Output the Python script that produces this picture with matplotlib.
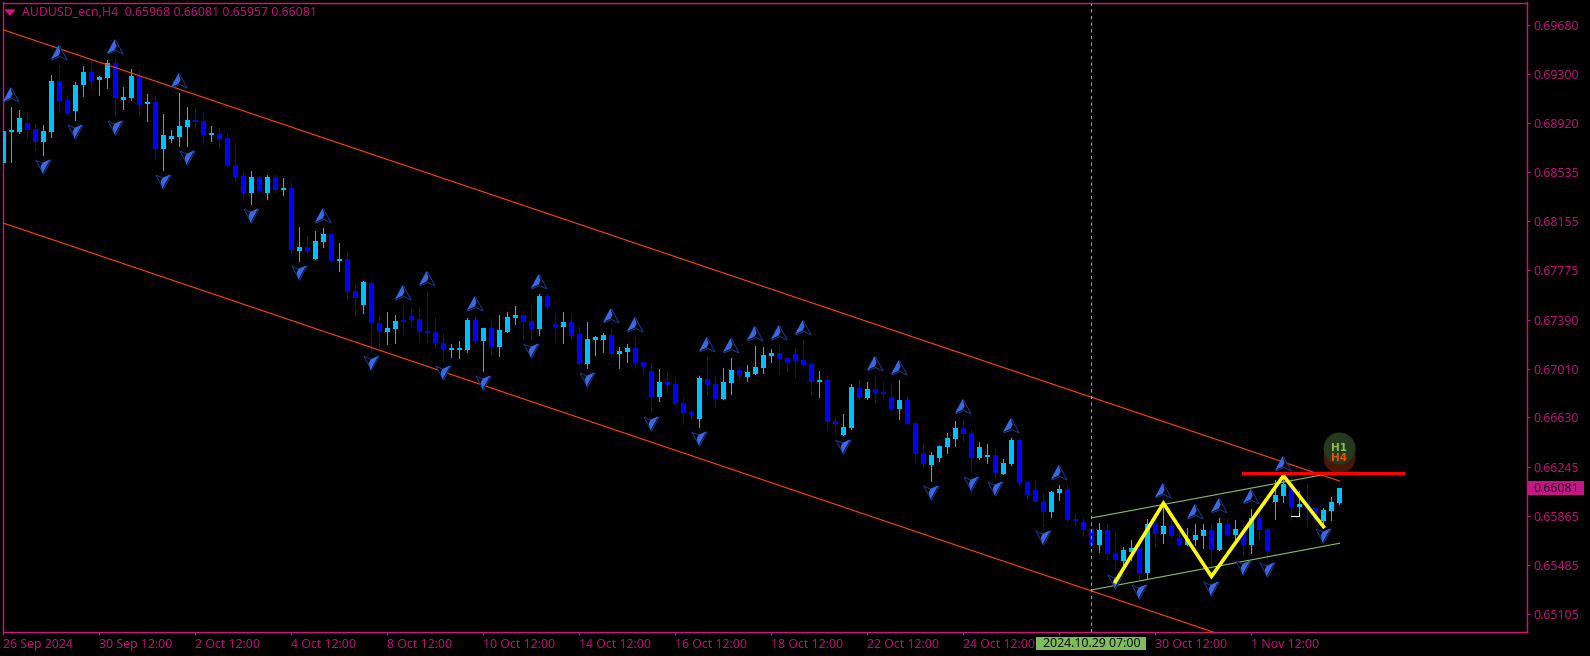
import matplotlib
matplotlib.use("Agg")
import matplotlib.pyplot as plt
from matplotlib.path import Path
from matplotlib.patches import Rectangle
from matplotlib.transforms import blended_transform_factory as blend

# ---- candles, prices in 1e-5 units (points) ----
OPEN = [68610,68848,68848,68916,68869,68773,68848,69245,69097,69011,69214,69315,69252,69268,69382,69097,69113,69283,69066,69081,
        68716,68794,68810,68887,68942,68931,68825,68833,68802,68592,68506,68374,68499,68374,68499,68398,68413,67924,67955,67862,
        67994,68056,67846,67862,67613,67504,67673,67362,67294,67318,67387,67419,67395,67302,67294,67209,67154,67157,67154,67387,
        67224,67325,67178,67294,67403,67426,67380,67318,67574,67356,67333,67372,67279,67046,67232,67232,67271,67123,67139,67170,
        67061,66991,66789,66906,66890,66743,66673,66618,66929,66890,66774,66898,66999,66945,66968,67015,67108,67131,67092,67123,
        67077,67046,66906,66921,66603,66494,66548,66859,66782,66851,66828,66789,66696,66766,66587,66354,66261,66315,66401,66463,
        66548,66510,66315,66323,66339,66191,66269,66455,66129,66067,65981,65896,66043,66074,65841,65818,65763,65639,65755,65577,
        65514,65584,65615,65421,65810,65724,65786,65693,65639,65678,65709,65755,65600,65802,65717,65755,65639,65849,65763,65973,
        66020,66105,65934,65973,65926,65825,65903,65968]
HIGH = [68890,69040,69019,68993,68911,68900,69291,69369,69128,69234,69361,69408,69283,69408,69413,69195,69335,69330,69144,69128,
        68988,68864,69151,69043,69035,69004,68895,68879,68833,68763,68527,68545,68506,68514,68514,68491,68452,68110,68040,68079,
        68102,68056,67986,67924,67667,67691,67691,67426,67447,67426,67504,67473,67481,67613,67403,67281,67201,67224,67403,67419,
        67325,67395,67426,67450,67496,67450,67504,67590,67590,67434,67450,67434,67333,67372,67263,67286,67325,67178,67201,67255,
        67061,67053,67007,66991,66937,66782,66681,66953,67100,66953,67015,67092,67022,67038,67186,67178,67162,67193,67092,67162,
        67232,67061,66991,66953,66634,66657,66890,66921,66906,66953,66906,66898,66921,66797,66603,66432,66362,66409,66510,66603,
        66618,66533,66440,66424,66393,66308,66471,66463,66129,66144,66036,66059,66106,66098,65880,65849,65763,65810,65802,65732,
        65623,65678,65709,65841,65887,65965,65849,65755,65771,65802,65802,65794,65849,65841,65833,65833,65919,65895,65771,66144,
        66175,66183,66058,66113,65926,65926,66012,66081]
LOW = [68610,68615,68838,68812,68709,68670,68812,69004,68980,68942,69128,69190,69136,69190,68973,69027,69097,68973,68934,68646,
       68553,68771,68740,68740,68879,68771,68778,68724,68584,68475,68336,68289,68385,68328,68382,68359,67906,67846,67906,67862,
       67955,67838,67768,67558,67426,67442,67142,67180,67201,67209,67279,67349,67224,67217,67170,67069,67100,67092,67139,67209,
       66991,67123,67108,67294,67356,67248,67240,67271,67481,67224,67209,67248,67038,67015,67116,67139,67116,67015,67061,67015,
       66976,66673,66758,66828,66727,66580,66618,66556,66805,66712,66774,66813,66921,66914,66968,66976,67061,66968,66991,66945,
       67030,66813,66789,66541,66517,66494,66541,66774,66774,66750,66782,66688,66618,66580,66284,66245,66137,66292,66354,66409,
       66447,66207,66308,66276,66168,66191,66261,66106,66005,65973,65787,65857,65989,65826,65794,65709,65639,65584,65530,65445,
       65445,65522,65367,65375,65631,65654,65701,65639,65639,65639,65615,65390,65600,65709,65670,65553,65577,65685,65538,65841,
       65973,65833,65864,65786,65818,65802,65833,65957]
CLOSE = [68856,68856,68957,68866,68773,68856,69245,69089,68993,69214,69315,69245,69276,69382,69113,69120,69283,69058,69081,68716,
         68825,68817,68895,68942,68926,68825,68841,68789,68584,68499,68374,68499,68390,68499,68398,68413,67932,67955,67924,68001,
         68056,67846,67862,67605,67558,67683,67364,67294,67325,67380,67372,67387,67294,67286,67209,67154,67170,67162,67387,67224,
         67325,67178,67310,67411,67426,67372,67318,67574,67489,67333,67372,67263,67046,67240,67255,67271,67123,67147,67170,67053,
         67022,66789,66906,66883,66735,66665,66649,66937,66883,66774,66906,66999,66953,66984,67022,67116,67131,67085,67053,67069,
         67038,66906,66921,66595,66580,66556,66867,66782,66851,66820,66813,66696,66766,66580,66346,66269,66339,66409,66471,66548,
         66502,66315,66401,66339,66199,66276,66455,66121,66028,65973,65896,66051,66074,65834,65825,65755,65639,65755,65569,65522,
         65600,65615,65421,65802,65724,65786,65709,65639,65685,65717,65755,65600,65810,65717,65763,65639,65849,65755,65592,66027,
         66113,65934,65957,65919,65833,65911,65973,66081]

# fractal arrows: bar numbers
ARROWS_UP = [1,7,14,22,40,50,53,59,67,76,79,88,91,94,97,100,109,112,120,126,132,145,149,152,156,160]
ARROWS_DOWN = [5,9,14,20,23,31,37,46,55,60,66,73,81,87,105,116,121,124,130,139,142,151,155,158,165]

# trend lines: (bar, price)
CHANNEL_UPPER = [(-0.1, 69645), (167, 66136)]
CHANNEL_LOWER = [(-0.1, 68143), (151.3, 64960)]
GREEN_UPPER = [(136, 65849), (164.8, 66183)]
GREEN_LOWER = [(136, 65289), (167, 65652)]
ZIGZAG_BARS = [139, 145, 151, 160, 165]
ZIGZAG_PRICES = [65354, 65963, 65394, 66177, 65781]
RESISTANCE = [(155, 66196), (175, 66196)]
WHITE_MARK = [(161, 65866), (162, 65866), (162, 65885)]
CURSOR_BAR = 136

YTICKS = [69680,69300,68920,68535,68155,67775,67390,67010,66630,66245,65865,65485,65105]
XTICK_BARS = [0,12,24,36,48,60,72,84,96,108,120,132,144,156]
XTICK_LABELS = ["26 Sep 2024","30 Sep 12:00","2 Oct 12:00","4 Oct 12:00","8 Oct 12:00","10 Oct 12:00",
                "14 Oct 12:00","16 Oct 12:00","18 Oct 12:00","22 Oct 12:00","24 Oct 12:00","",
                "30 Oct 12:00","1 Nov 12:00"]
HEADER = "AUDUSD_ecn,H4  0.65968 0.66081 0.65957 0.66081"
CURSOR_LABEL = "2024.10.29 07:00"
LAST_PRICE = "0.66081"

W, H = 1590, 656
FRAME = "#D6107F"
TEXT = "#C01078"
CYAN, BLUE = "#00BFFF", "#0000FF"
GREEN = "#8FBC5A"
ORANGE = "#FF4500"
FONT = "Noto Sans"
FS = 8.85

plt.rcParams["font.family"] = FONT
fig = plt.figure(figsize=(W / 100, H / 100), dpi=100, facecolor="black")
L, R, T, B = 2.5, 1526.7, 2.5, 632.3
ax = fig.add_axes([L / W, 1 - B / H, (R - L) / W, (B - T) / H], facecolor="black")
ax.set_xlim(-0.1, 190.4)
ax.set_ylim(64960, 69855)

# candles
for k, (o, h, l, c) in enumerate(zip(OPEN, HIGH, LOW, CLOSE)):
    col = CYAN if c >= o else BLUE
    ax.vlines(k, l, h, color=col, linewidth=0.7, zorder=2, antialiased=False)
    ax.bar(k, max(abs(c - o), 16), bottom=min(o, c), width=0.66, color=col, linewidth=0,
           zorder=3, antialiased=False)

# channel and pattern lines
def seg(points, **kw):
    ax.plot([p[0] for p in points], [p[1] for p in points], **kw)

seg(CHANNEL_UPPER, color=ORANGE, lw=0.8, zorder=4)
seg(CHANNEL_LOWER, color=ORANGE, lw=0.8, zorder=4)
seg(GREEN_UPPER, color=GREEN, lw=0.8, zorder=4)
seg(GREEN_LOWER, color=GREEN, lw=0.8, zorder=4)
ax.axvline(CURSOR_BAR, color=GREEN, lw=0.8, ls=(0, (3, 3)), zorder=4)

# arrows
up_out = Path([(0, 1), (-1, -0.85), (0, -0.4), (1, -0.85), (0, 1)], closed=True)
up_fill = Path([(0, 1), (-1, -0.85), (0, -0.4), (0.25, 0.1), (0, 1)], closed=True)
dn_out = Path([(0, -1), (1, 0.85), (0, 0.4), (-1, 0.85), (0, -1)], closed=True)
dn_fill = Path([(0, -1), (1, 0.85), (0, 0.4), (-0.25, -0.1), (0, -1)], closed=True)
UP_GAP, DN_GAP = 96, 85
ux = [k - 0.1 for k in ARROWS_UP]
uy = [HIGH[k] + UP_GAP for k in ARROWS_UP]
dx = [k - 0.1 for k in ARROWS_DOWN]
dy = [LOW[k] - DN_GAP for k in ARROWS_DOWN]
for xs, ys, o, f in ((ux, uy, up_out, up_fill), (dx, dy, dn_out, dn_fill)):
    ax.scatter(xs, ys, s=120, marker=o, facecolor="black", edgecolor="#1C3A8C", linewidth=0.7, zorder=5)
    ax.scatter(xs, ys, s=120, marker=f, facecolor="#3A68E4", edgecolor="none", zorder=6)

# zigzag, resistance, white mark
ax.plot(ZIGZAG_BARS, ZIGZAG_PRICES, color="#FFFF00", lw=2.6, zorder=7, solid_joinstyle="miter")
seg(WHITE_MARK, color="white", lw=0.75, zorder=6)

# H1/H4 badge
ax.scatter([167], [66323], s=530, color="#45190A", zorder=7, linewidth=0)
ax.scatter([167], [66393], s=530, color="#233A1E", zorder=8, linewidth=0)
ax.text(167, 66393, "H1", color=GREEN, fontsize=7.5, fontweight="bold", family="DejaVu Sans",
        ha="center", va="center", zorder=9)
ax.text(167, 66318, "H4", color="#E8500F", fontsize=7.5, fontweight="bold", family="DejaVu Sans",
        ha="center", va="center", zorder=9)
seg(RESISTANCE, color="#FF0000", lw=2.2, zorder=10)

# frame and axes
for s in ax.spines.values():
    s.set_color(FRAME)
    s.set_linewidth(1.0)
ax.yaxis.tick_right()
ax.set_yticks(YTICKS)
ax.set_yticklabels([f"{v / 1e5:.5f}" for v in YTICKS])
ax.set_xticks(XTICK_BARS)
ax.set_xticklabels(XTICK_LABELS, ha="left")
ax.tick_params(axis="y", colors=FRAME, labelcolor=TEXT, length=2.3, width=0.8, labelsize=FS, pad=2.8)
ax.tick_params(axis="x", colors=FRAME, labelcolor=TEXT, length=2.3, width=0.8, labelsize=FS, pad=2.0)

# header
fig.patches.append(plt.Polygon([(5.5 / W, 1 - 10 / H), (14.5 / W, 1 - 10 / H), (10 / W, 1 - 15 / H)],
                               closed=True, color=FRAME, transform=fig.transFigure))
fig.text(21.5 / W, 1 - 12.7 / H, HEADER, color=TEXT, fontsize=FS, va="center", ha="left")

# last price box
tr = blend(ax.transAxes, ax.transData)
last = CLOSE[-1]
ax.add_patch(Rectangle((1.0, last - 55), 57 / (R - L), 108, transform=tr, color="#C71585",
                       clip_on=False, zorder=11, linewidth=0))
ax.text(1 + 6.5 / (R - L), last - 1, LAST_PRICE, transform=tr, color="#200A20", fontsize=FS,
        va="center", ha="left", zorder=12, clip_on=False)

# cursor date box
tr2 = blend(ax.transData, ax.transAxes)
ax.add_patch(Rectangle((CURSOR_BAR - 6.9, -0.0275), 13.7, 0.0205, transform=tr2, color="#7DBB5B",
                       clip_on=False, zorder=11, linewidth=0))
ax.text(CURSOR_BAR, -0.0172, CURSOR_LABEL, transform=tr2, color="#101010", fontsize=FS,
        va="center", ha="center", zorder=12, clip_on=False)

fig.savefig("out.png", dpi=100, facecolor="black")

for name, arr in (("O", OPEN), ("H", HIGH), ("L", LOW), ("C", CLOSE)):
    assert len(arr) == 168, (name, len(arr))
